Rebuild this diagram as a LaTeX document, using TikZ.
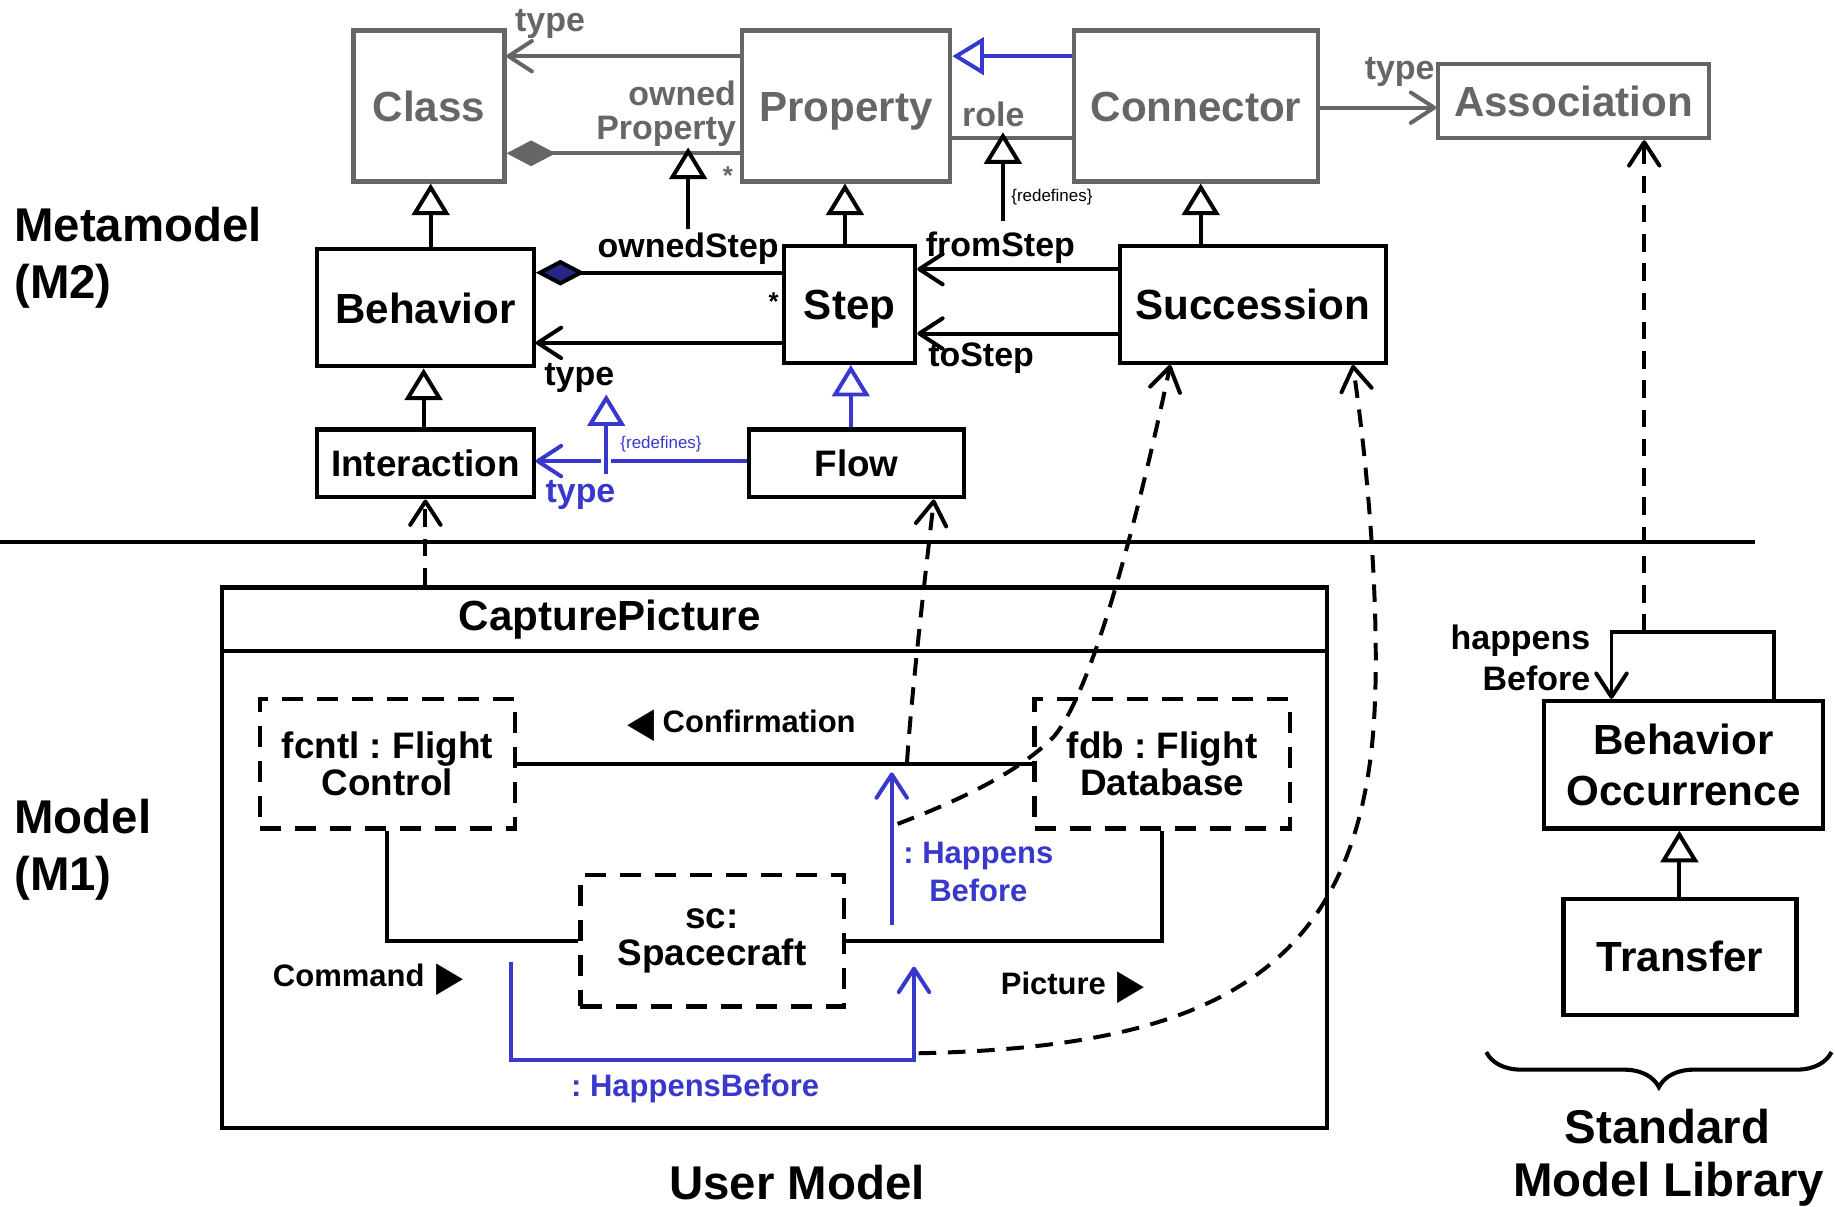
\documentclass[tikz,border=0pt]{standalone}
\usepackage{fontspec}
\setmainfont{Liberation Sans}
\newfontfamily\shapesfont{DejaVu Sans}
\usetikzlibrary{arrows.meta,decorations.pathreplacing}
\definecolor{metagray}{RGB}{102,102,102}
\definecolor{flowblue}{RGB}{56,56,204}
\definecolor{compnavy}{RGB}{38,38,135}
\newcommand\setsize[2]{\fontsize{#1pt}{#2pt}\selectfont}
\newcommand\dirmark[1]{\raisebox{-3.5pt}{\scalebox{1}[1.18]{\shapesfont\setsize{30}{30}#1}}}
\frenchspacing
\begin{document}
\begin{tikzpicture}[x=1pt,y=-1pt,
  every node/.style={inner sep=0pt},
  big/.style={font=\bfseries\setsize{36}{44}},
  mid/.style={font=\bfseries\setsize{31.5}{32}},
  lbl/.style={font=\bfseries\setsize{29}{29}},
  sml/.style={font=\bfseries\setsize{26.5}{32}},
  huge/.style={font=\bfseries\setsize{40.5}{45}},
  tiny/.style={font=\setsize{14.5}{16}},
  star/.style={font=\bfseries\setsize{22}{22},anchor=base},
  umlbox/.style={draw,line width=3.6pt,fill=white,inner sep=0pt,align=center},
  metabox/.style={umlbox,draw=metagray,text=metagray,big,text height=26pt,text depth=0pt},
  classbox/.style={umlbox,big,text height=26pt,text depth=0pt},
  partbox/.style={umlbox,mid,dash pattern=on 18pt off 12pt},
  link/.style={line width=3.4pt},
  graylink/.style={link,draw=metagray},
  bluelink/.style={link,draw=flowblue},
  deplink/.style={link,dash pattern=on 15pt off 10pt},
  nav/.style={-{Straight Barb[length=20pt,width=26pt,round]}},
  gen/.style={-{Triangle[open,length=27pt,width=32pt,fill=white]}},
  comp/.style={{Diamond[length=42pt,width=22pt]}-},
]
\useasboundingbox (0,0) rectangle (1568,1031);

% ---------- Metamodel (M2): UML classes ----------
\node[metabox,minimum width=129pt,minimum height=129pt] (cls) at (366.5,90.5) {Class};
\node[metabox,minimum width=178pt,minimum height=129pt] (prop) at (723,90.5) {Property};
\node[metabox,minimum width=208pt,minimum height=129pt] (conn) at (1022,90.5) {Connector};
\node[metabox,minimum width=231pt,minimum height=63pt] (assoc) at (1344.5,86.5) {Association};

\node[classbox,minimum width=185pt,minimum height=100pt] (beh) at (363.5,263) {Behavior};
\node[classbox,minimum width=112pt,minimum height=100pt] (step) at (726,260) {Step};
\node[classbox,minimum width=227pt,minimum height=100pt] (succ) at (1070.5,260) {Succession};
\node[classbox,mid,text height=22.5pt,minimum width=185pt,minimum height=58pt] (inter) at (363.5,396) {Interaction};
\node[classbox,mid,text height=22.5pt,minimum width=184pt,minimum height=58pt] (flow) at (732,396) {Flow};

% UML associations
\draw[graylink,nav] (prop.west |- 0,48) -- (cls.east |- 0,48);
\node[lbl,text=metagray,anchor=base west] (tcls) at (440,27) {type};
\draw[graylink,comp] (cls.east |- 0,131) -- (prop.west |- 0,131);
\node[lbl,text=metagray,anchor=base east] (own1) at (629,90.5) {owned};
\node[lbl,text=metagray,anchor=base east] (own2) at (629,119) {Property};
\node[star,text=metagray] (mult1) at (622,158) {*};
\draw[bluelink,gen] (conn.west |- 0,48) -- (prop.east |- 0,48);
\draw[graylink] (prop.east |- 0,118) -- (conn.west |- 0,118);
\node[lbl,text=metagray,anchor=base west] (role) at (822,108) {role};
\draw[graylink,nav] (conn.east |- 0,92) -- (assoc.west |- 0,92);
\node[lbl,text=metagray,anchor=base west] (tass) at (1166,68) {type};

% generalizations
\draw[link,gen] (beh.north -| 368,0) -- (cls.south -| 368,0);
\draw[link,gen] (step.north -| 722,0) -- (prop.south -| 722,0);
\draw[link,gen] (succ.north -| 1026,0) -- (conn.south -| 1026,0);
\draw[link,gen] (inter.north -| 362,0) -- (beh.south -| 362,0);
\draw[bluelink,gen] (flow.north -| 727,0) -- (step.south -| 727,0);

% redefinitions
\coordinate (osB) at (588,196); \coordinate (osT) at (588,126);
\draw[link,gen] (osB) -- (osT);
\coordinate (fsB) at (857,189); \coordinate (fsT) at (857,113);
\draw[link,gen] (fsB) -- (fsT);
\node[tiny,anchor=base west] (rd1) at (864,172) {\{redefines\}};

\draw[link,{Diamond[length=42pt,width=22pt,fill=compnavy]}-] (beh.east |- 0,233) -- (step.west |- 0,233);
\node[lbl,anchor=base] (os) at (588,220) {ownedStep};
\node[star] (mult2) at (661,265) {*};
\draw[link,nav] (step.west |- 0,293) -- (beh.east |- 0,293);
\node[lbl,anchor=base west] (tbeh) at (465,329) {type};
\draw[link,nav] (succ.west |- 0,230) -- (step.east |- 0,230);
\node[lbl,anchor=base west] (from) at (791,219) {fromStep};
\draw[link,nav] (succ.west |- 0,285) -- (step.east |- 0,285);
\node[lbl,anchor=base west] (to) at (793,313) {toStep};
\draw[bluelink,nav] (flow.west |- 0,394) -- (inter.east |- 0,394);
\node[lbl,text=flowblue,anchor=base west] (tint) at (466,429) {type};
\coordinate (tyB) at (518,405); \coordinate (tyT) at (518,337);
\draw[bluelink,gen,preaction={draw=white,line width=9pt,-}] (tyB) -- (tyT);
\node[tiny,text=flowblue,anchor=base west] (rd2) at (530,383) {\{redefines\}};

% level separator
\draw[line width=3pt] (0,463) -- (1500,463);

\node[huge,anchor=base west] (lv2a) at (12,206.5) {Metamodel};
\node[huge,anchor=base west] (lv2b) at (12,255) {(M2)};
\node[huge,anchor=base west] (lv1a) at (12,712) {Model};
\node[huge,anchor=base west] (lv1b) at (12,761) {(M1)};

% ---------- Model (M1): CapturePicture ----------
\node[umlbox,minimum width=944pt,minimum height=462pt] (cap) at (662,733) {};
\draw[link] (cap.west |- 0,556) -- (cap.east |- 0,556);
\node[big,anchor=base] (capname) at (521,539) {CapturePicture};

\node[partbox,minimum width=218pt,minimum height=111pt] (fcntl) at (331,652.5) {fcntl : Flight\\Control};
\node[partbox,minimum width=218pt,minimum height=111pt] (fdb) at (993,652.5) {fdb : Flight\\Database};
\node[partbox,minimum width=225pt,minimum height=112pt] (sc) at (608.5,804) {sc:\\Spacecraft};

\draw[link] (fcntl.east) -- (fdb.west);
\draw[link] (fcntl.south) |- (sc.west);
\draw[link] (sc.east) -| (fdb.south);
\node[sml,anchor=base west] (conf) at (536,626) {\dirmark{◀}\hspace{7pt}Confirmation};
\node[sml,anchor=base west] (cmd) at (233,843) {Command\hspace{10pt}\dirmark{▶}};
\node[sml,anchor=base west] (pic) at (855,850) {Picture\hspace{10pt}\dirmark{▶}};

% HappensBefore connectors between the flows
\coordinate (hbA) at (762,790); \coordinate (hbB) at (762,660);
\draw[bluelink,nav] (hbA) -- (hbB);
\node[sml,text=flowblue,align=center] (hbl1) at (836,745) {: Happens\\Before};
\coordinate (hbC) at (437,822); \coordinate (hbD) at (781,826);
\draw[bluelink,nav] (hbC) -- (hbC |- 0,906) -| (hbD);
\node[sml,text=flowblue,anchor=base] (hbl2) at (594,937) {: HappensBefore};

% classification dependencies
\draw[deplink,nav] (cap.north -| inter.south) -- (inter.south);
\coordinate (d1) at (775,652);
\draw[deplink,nav] (d1) .. controls (779,590) and (792,480) .. (flow.south -| 798,0);
\coordinate (d2) at (767,704);
\draw[deplink,nav] (d2) .. controls (820,684) and (870,660) .. (900,630)
  .. controls (935,590) and (975,430) .. (succ.south -| 1000,0);
\coordinate (d3) at (785,900);
\draw[deplink,nav] (d3) .. controls (1020,895) and (1150,840) .. (1172,640)
  .. controls (1181,560) and (1172,420) .. (succ.south -| 1156,0);

% ---------- Standard Model Library ----------
\node[umlbox,big,minimum width=239pt,minimum height=109pt] (bo) at (1438.5,653.5) {Behavior\\Occurrence};
\node[classbox,minimum width=199pt,minimum height=99pt] (tr) at (1435.5,817.5) {Transfer};
\draw[link,gen] (tr.north -| 1435,0) -- (bo.south -| 1435,0);
\draw[link,nav] (bo.north -| 1516,0) -- ++(0,-57) -| (bo.north -| 1377,0);
\coordinate (hbtop) at (1405,540);
\draw[deplink,nav] (hbtop) -- (assoc.south -| hbtop);
\node[lbl,anchor=base east] (hp1) at (1359,555) {happens};
\node[lbl,anchor=base east] (hp2) at (1359,590) {Before};

\draw[line width=3.5pt,decorate,decoration={brace,mirror,amplitude=30pt}] (1270,899) -- (1565,899);
\node[huge,anchor=base] (lib1) at (1425,977) {Standard};
\node[huge,anchor=base] (lib2) at (1426,1022) {Model Library};
\node[huge,anchor=base] (um) at (681,1025) {User Model};
\end{tikzpicture}
\end{document}
